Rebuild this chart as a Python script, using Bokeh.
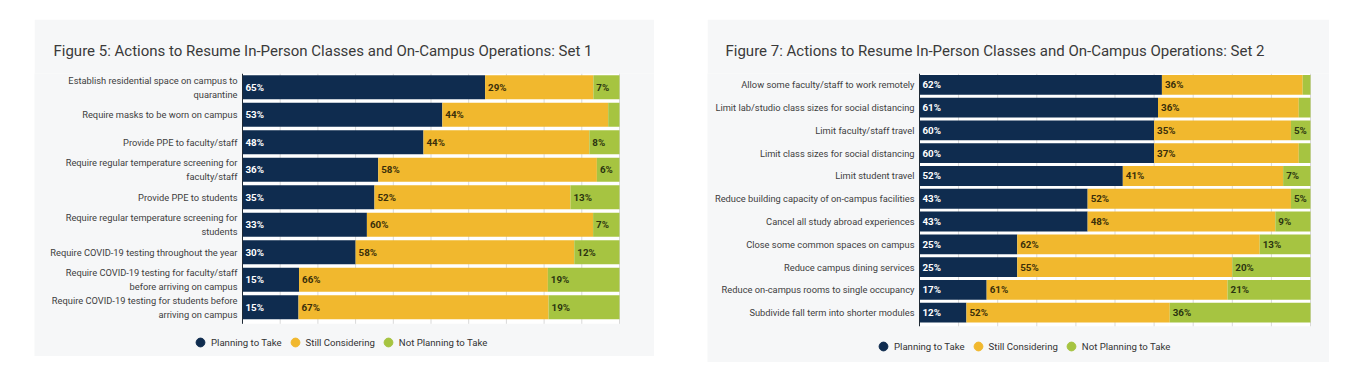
import numpy as np
from bokeh.plotting import figure
from bokeh.models import (ColumnDataSource, Range1d, Legend, LegendItem, Spacer)
from bokeh.layouts import row, column
from bokeh.core.properties import value
from bokeh.embed import file_html
from bokeh.resources import INLINE

# ---------------- data ----------------
series_names = ["Planning to Take", "Still Considering", "Not Planning to Take"]

set1_title = "Figure 5: Actions to Resume In-Person Classes and On-Campus Operations: Set 1"
set1_categories = [
    "Establish residential space on campus to\nquarantine",
    "Require masks to be worn on campus",
    "Provide PPE to faculty/staff",
    "Require regular temperature screening for\nfaculty/staff",
    "Provide PPE to students",
    "Require regular temperature screening for\nstudents",
    "Require COVID-19 testing throughout the year",
    "Require COVID-19 testing for faculty/staff\nbefore arriving on campus",
    "Require COVID-19 testing for students before\narriving on campus",
]
set1_planning = [65, 53, 48, 36, 35, 33, 30, 15, 15]
set1_considering = [29, 44, 44, 58, 52, 60, 58, 66, 67]
set1_not_planning = [7, 3, 8, 6, 13, 7, 12, 19, 19]

set2_title = "Figure 7: Actions to Resume In-Person Classes and On-Campus Operations: Set 2"
set2_categories = [
    "Allow some faculty/staff to work remotely",
    "Limit lab/studio class sizes for social distancing",
    "Limit faculty/staff travel",
    "Limit class sizes for social distancing",
    "Limit student travel",
    "Reduce building capacity of on-campus facilities",
    "Cancel all study abroad experiences",
    "Close some common spaces on campus",
    "Reduce campus dining services",
    "Reduce on-campus rooms to single occupancy",
    "Subdivide fall term into shorter modules",
]
set2_planning = [62, 61, 60, 60, 52, 43, 43, 25, 25, 17, 12]
set2_considering = [36, 36, 35, 37, 41, 52, 48, 62, 55, 61, 52]
set2_not_planning = [2, 3, 5, 3, 7, 5, 9, 13, 20, 21, 36]

grid_ticks = [10, 20, 30, 40, 50, 60, 70, 80, 90, 100]

# ---------------- style ----------------
COLORS = ["#0f2c4f", "#f1b82e", "#a6c441"]
LABEL_COLORS = ["#ffffff", "#3a2f0a", "#2c3510"]
PANEL = "#f6f7f8"
FONT = "Roboto"


def make_panel(title, cats, planning, considering, notplan, width, height,
               top_border, bar_left_px, bar_right_px, bars_px, title_dx,
               legend_xy):
    n = len(cats)
    tot = [a + b + c for a, b, c in zip(planning, considering, notplan)]
    sp = [a / t * 100 for a, t in zip(planning, tot)]
    ss = [b / t * 100 for b, t in zip(considering, tot)]
    sn = [c / t * 100 for c, t in zip(notplan, tot)]
    ypos = list(range(n))
    src = ColumnDataSource(dict(y=ypos, p=sp, s=ss, n=sn))

    # scales: x 0..100 spans the bar area; rows fill bars_px of the frame
    ppu = (bar_right_px - bar_left_px) / 100.0
    x_range = Range1d(-bar_left_px / ppu, 100 + (width - bar_right_px) / ppu)
    frame_h = height - top_border
    pitch = bars_px / n
    y_range = Range1d(n - 0.5 + (frame_h - bars_px) / pitch, -0.5)

    p = figure(width=width, height=height, x_range=x_range, y_range=y_range,
               output_backend="svg", toolbar_location=None,
               min_border_left=0, min_border_right=0,
               min_border_top=top_border, min_border_bottom=0)
    p.border_fill_color = PANEL
    p.background_fill_color = PANEL
    p.outline_line_color = None
    p.axis.visible = False
    p.grid.visible = False

    p.title.text = title
    p.title.align = "left"
    p.title.offset = title_dx
    p.title.standoff = 27
    p.title.text_font = FONT
    p.title.text_font_size = "15px"
    p.title.text_font_style = "normal"
    p.title.text_color = "#3a3a3a"

    # plotting area background, grid and category axis line
    p.quad(left=0, right=100, top=-0.5, bottom=n - 0.5 + 0.1,
           fill_color="#ffffff", line_color=None)
    p.segment(x0=grid_ticks, x1=grid_ticks, y0=-0.5, y1=n - 0.5 + 0.1,
              line_color="#d9d9d9", line_width=1)

    p.hbar_stack(["p", "s", "n"], y="y", height=0.87, source=src,
                 fill_color=COLORS, line_color=None)

    p.segment(x0=0, x1=0, y0=-0.5, y1=n - 0.5 + 0.1, line_color="#1f2a36",
              line_width=1)

    # category labels (right aligned, left of the axis line)
    csrc = ColumnDataSource(dict(x=[0] * n, y=ypos, t=cats))
    p.text(x="x", y="y", text="t", source=csrc, x_offset=-5,
           text_font=value(FONT), text_font_size="9.3px", text_color="#404040",
           text_align="right", text_baseline="middle", text_line_height=1.3)

    # percentage labels
    lx, ly, lt, lc = [], [], [], []
    for i in range(n):
        starts = [0, sp[i], sp[i] + ss[i]]
        vals = [planning[i], considering[i], notplan[i]]
        for k in range(3):
            lx.append(starts[k])
            ly.append(i)
            lt.append(f"{vals[k]}%" if vals[k] >= 4 else "")
            lc.append(LABEL_COLORS[k])
    lsrc = ColumnDataSource(dict(x=lx, y=ly, t=lt, c=lc))
    p.text(x="x", y="y", text="t", source=lsrc, text_color="c",
           text_font=value(FONT), text_font_size="9.8px", text_font_style="bold",
           text_baseline="middle", text_align="left", x_offset=3)

    # legend with circle markers
    items = []
    for name, col in zip(series_names, COLORS):
        r = p.scatter(x=np.array([np.nan]), y=np.array([np.nan]),
                      marker="circle", fill_color=col, line_color=col)
        items.append(LegendItem(label=name, renderers=[r]))
    leg = Legend(items=items, orientation="horizontal", location=legend_xy,
                 glyph_width=22, glyph_height=22, label_standoff=0, spacing=2,
                 label_text_font=FONT, label_text_font_size="9.6px",
                 label_text_color="#333333", border_line_color=None,
                 background_fill_alpha=0, padding=0, margin=0)
    p.add_layout(leg, "center")
    return p


p1 = make_panel(set1_title, set1_categories, set1_planning, set1_considering,
                set1_not_planning, 620, 337, 52, 208, 585, 249.3, 19,
                (155, 3))
p2 = make_panel(set2_title, set2_categories, set2_planning, set2_considering,
                set2_not_planning, 622, 343, 54, 212, 603, 250.5, 18,
                (165, 5))

layout = column(Spacer(width=1300, height=19),
                row(Spacer(width=34, height=343), p1,
                    Spacer(width=53, height=343), p2))

open("out.html", "w").write(file_html(layout, INLINE))
